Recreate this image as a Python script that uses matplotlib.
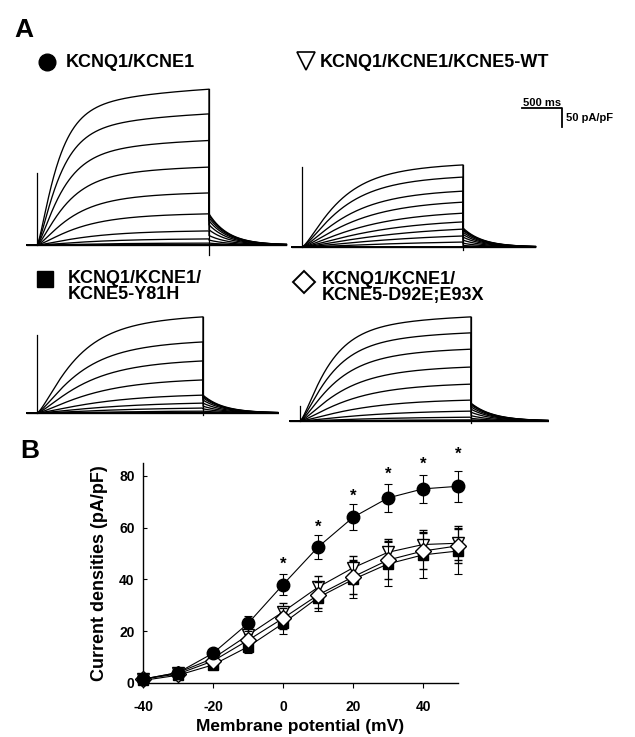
import numpy as np
import matplotlib
matplotlib.use('Agg')
import matplotlib.pyplot as plt

plt.rcParams['font.family'] = ['Liberation Sans', 'DejaVu Sans']
plt.rcParams['font.weight'] = 'bold'

W, H = 635, 737
fig = plt.figure(figsize=(W / 100, H / 100), dpi=100)

# ---------------- Panel B data (pA/pF) ----------------
voltages = [-40, -30, -20, -10, 0, 10, 20, 30, 40, 50]
kcne1_mean = [1.5, 4, 11.5, 23, 38, 52.5, 64, 71.5, 75, 76]
kcne1_sem = [0.5, 1, 1.5, 3, 4, 4.5, 5, 5.5, 5.5, 6]
wt_mean = [1.5, 4, 9.5, 18.5, 27.5, 37, 44.5, 50.5, 53.5, 54]
wt_sem = [0.5, 1, 1.5, 2.5, 3.5, 4.5, 4.5, 5, 5.5, 6.5]
y81h_mean = [1, 3, 7, 14, 23, 33, 40, 46, 49.5, 51]
y81h_sem = [0.5, 1, 1.5, 2.5, 4, 5, 7, 8.5, 9, 9]
d92e_mean = [1.5, 3.5, 8.5, 16.5, 25, 34, 41, 47.5, 51, 53]
d92e_sem = [0.5, 1, 1.5, 2.5, 4, 5, 6.5, 7.5, 7, 6.5]
sig_voltages = [0, 10, 20, 30, 40, 50]
sig_y = [45.8, 60, 72, 80.8, 84.7, 88.5]
xticks_b = [-40, -20, 0, 20, 40]
yticks_b = [0, 20, 40, 60, 80]

# ---------------- Panel A data (representative traces) ----------------
step_ms = 2000
tail_ms = 900
pre_ms = 120
# current at end of each step (pA/pF), steps +50 ... -40 mV
kcne1_steady = [410, 345, 275, 205, 137, 82, 37, 16, 5, 0]
kcne1_tail = [82, 78, 72, 64, 53, 40, 25, 13, 5, 0]
wt_steady = [216, 184, 147, 118, 89, 66, 47, 29, 13, 0]
wt_tail = [50, 47, 44, 39, 33, 26, 18, 10, 4, 0]
y81h_steady = [253, 187, 137, 87, 47, 26, 13, 5, 2, 0]
y81h_tail = [47, 44, 40, 34, 26, 18, 11, 5, 2, 0]
d92e_steady = [274, 232, 189, 142, 97, 55, 26, 10, 3, 0]
d92e_tail = [47, 45, 42, 37, 31, 23, 14, 7, 3, 0]
tau_rel = [1.0, 1.1, 1.25, 1.45, 1.7, 2.0, 2.4, 2.8, 3.2, 3.5]

Y_PX = 0.38  # px per pA/pF (50 pA/pF scale bar = 19 px)

panels = [
    dict(steady=kcne1_steady, tail=kcne1_tail, x0=37, yb=245, pxms=0.086,
         tau=200, ttail=230, art=190, dip=26),
    dict(steady=wt_steady, tail=wt_tail, x0=302, yb=247, pxms=0.0805,
         tau=380, ttail=250, art=210, dip=8),
    dict(steady=y81h_steady, tail=y81h_tail, x0=37, yb=413, pxms=0.083,
         tau=380, ttail=250, art=205, dip=5),
    dict(steady=d92e_steady, tail=d92e_tail, x0=300, yb=421, pxms=0.0855,
         tau=280, ttail=260, art=40, dip=5),
]


def axes_px(left, top, right, bottom):
    return fig.add_axes([left / W, 1 - bottom / H, (right - left) / W, (bottom - top) / H])


def activation(t, tau_f, tau_s=1500.0, frac_s=0.2, p=1.5):
    f = (1 - frac_s) * (1 - np.exp(-t / tau_f)) ** p + frac_s * (1 - np.exp(-t / tau_s))
    fend = (1 - frac_s) * (1 - np.exp(-step_ms / tau_f)) ** p + frac_s * (1 - np.exp(-step_ms / tau_s))
    return f / fend


t_step = np.linspace(0, step_ms, 400)
t_tail = np.linspace(0, tail_ms, 200)

for pnl in panels:
    x0, yb, pxms = pnl['x0'], pnl['yb'], pnl['pxms']
    left = x0 - (pre_ms + 15) * pxms
    right = x0 + (step_ms + tail_ms + 15) * pxms
    top = yb - 175
    bottom = yb + 16
    ax = axes_px(left, top, right, bottom)
    ax.set_xlim((left - x0) / pxms, (right - x0) / pxms)
    ax.set_ylim((yb - bottom) / Y_PX, (yb - top) / Y_PX)
    ax.axis('off')
    for i, (amp, tl) in enumerate(zip(pnl['steady'], pnl['tail'])):
        act = amp * activation(t_step, pnl['tau'] * tau_rel[i])
        tailc = tl * np.exp(-t_tail / pnl['ttail'])
        x = np.concatenate([[-pre_ms, 0], t_step, step_ms + t_tail])
        y = np.concatenate([[0, 0], act, tailc])
        ax.plot(x, y, color='black', lw=0.95, solid_joinstyle='round')
    # capacitive artifacts
    ax.plot([0, 0], [0, pnl['art']], color='black', lw=0.9)
    ax.plot([step_ms, step_ms], [-pnl['dip'], max(pnl['steady'])], color='black', lw=0.9)
    ax.plot([-pre_ms, step_ms + tail_ms], [0, 0], color='black', lw=1.4)

# scale bar (uses the KCNQ1/KCNE1/KCNE5-WT panel scale)
sb_pxms = panels[1]['pxms']
sb_left, sb_top = 522, 108
axs = axes_px(sb_left - 5, sb_top - 5, sb_left + 500 * sb_pxms + 5, sb_top + 50 * Y_PX + 5)
axs.set_xlim(-5 / sb_pxms, 500 + 5 / sb_pxms)
axs.set_ylim(-50 - 5 / Y_PX, 5 / Y_PX)
axs.axis('off')
axs.plot([0, 500, 500], [0, 0, -50], color='black', lw=1.3)

# ---------------- overlay for labels ----------------
ov = fig.add_axes([0, 0, 1, 1], zorder=5)
ov.set_xlim(0, W)
ov.set_ylim(H, 0)
ov.axis('off')
ov.patch.set_alpha(0)

tfs = 13
ov.text(14, 30, 'A', fontsize=19, fontweight='bold', va='center', ha='left')
ov.text(20, 451, 'B', fontsize=19, fontweight='bold', va='center', ha='left')

ov.plot(47, 62, 'o', color='black', ms=12)
ov.text(66, 62, 'KCNQ1/KCNE1', fontsize=tfs, fontweight='bold', va='center', ha='left')

ov.plot(306, 61, 'v', mfc='white', mec='black', mew=1.2, ms=13)
ov.text(320, 62, 'KCNQ1/KCNE1/KCNE5-WT', fontsize=tfs, fontweight='bold', va='center', ha='left')

ov.plot(45, 279, 's', color='black', ms=11)
ov.text(68, 278, 'KCNQ1/KCNE1/', fontsize=tfs, fontweight='bold', va='center', ha='left')
ov.text(68, 294, 'KCNE5-Y81H', fontsize=tfs, fontweight='bold', va='center', ha='left')

ov.plot(304, 282, 'D', mfc='white', mec='black', mew=1.4, ms=11)
ov.text(322, 279, 'KCNQ1/KCNE1/', fontsize=tfs, fontweight='bold', va='center', ha='left')
ov.text(322, 295, 'KCNE5-D92E;E93X', fontsize=tfs, fontweight='bold', va='center', ha='left')

ov.text(542, 103, '500 ms', fontsize=8, fontweight='bold', va='center', ha='center')
ov.text(566, 118, '50 pA/pF', fontsize=8, fontweight='bold', va='center', ha='left')

# ---------------- Panel B ----------------
axb = axes_px(143, 463, 458, 683)
axb.set_xlim(-40, 50)
axb.set_ylim(0, 85)
for s in ['top', 'right']:
    axb.spines[s].set_visible(False)
for s in ['left', 'bottom']:
    axb.spines[s].set_linewidth(1.0)
axb.set_xticks(xticks_b)
axb.set_yticks(yticks_b)
axb.set_xticklabels([str(v) for v in xticks_b], fontsize=10, fontweight='bold')
axb.set_yticklabels([str(v) for v in yticks_b], fontsize=10, fontweight='bold')
axb.tick_params(axis='x', direction='out', length=3.5, width=0.8, pad=9)
axb.tick_params(axis='y', direction='in', length=3, width=0.8, pad=6)

series = [
    (y81h_mean, y81h_sem, dict(marker='s', mfc='black', mec='black', ms=7.5)),
    (wt_mean, wt_sem, dict(marker='v', mfc='white', mec='black', ms=9, mew=1.0)),
    (d92e_mean, d92e_sem, dict(marker='D', mfc='white', mec='black', ms=8, mew=1.0)),
    (kcne1_mean, kcne1_sem, dict(marker='o', mfc='black', mec='black', ms=9)),
]
for k, (m, e, st) in enumerate(series):
    axb.errorbar(voltages, m, yerr=e, color='black', lw=0.8, elinewidth=0.8,
                 capsize=3, capthick=0.8, clip_on=False, zorder=3 + k, **st)

for v, y in zip(sig_voltages, sig_y):
    axb.text(v, y, '*', fontsize=12, fontweight='bold', ha='center', va='center', clip_on=False)

axb.set_ylabel('Current densities (pA/pF)', fontsize=13, fontweight='bold', labelpad=8)
ov.text(300, 727, 'Membrane potential (mV)', fontsize=12.5, fontweight='bold',
        ha='center', va='center')

fig.savefig('out.png', dpi=100)
